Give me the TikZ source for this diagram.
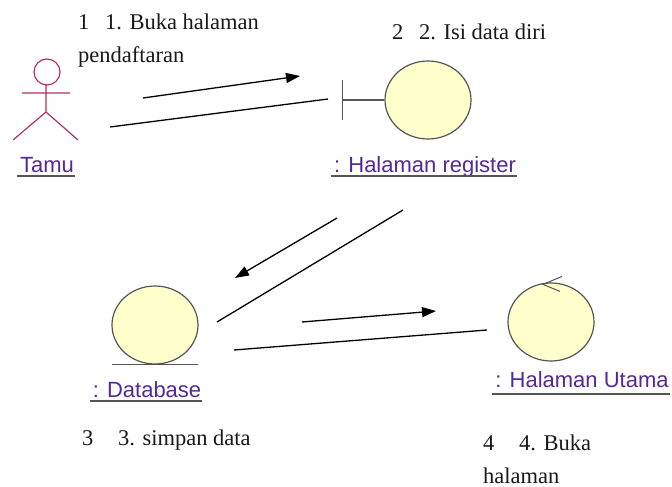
\documentclass[tikz,border=0pt]{standalone}
\usepackage{fontspec}
\setmainfont{Liberation Serif}
\setsansfont{Liberation Sans}
\usetikzlibrary{arrows.meta,shapes.geometric,calc}
\definecolor{objfill}{RGB}{255,255,204}
\definecolor{objline}{RGB}{85,85,85}
\definecolor{actorcol}{RGB}{180,50,100}
\definecolor{namecol}{RGB}{85,40,150}
\begin{document}
\begin{tikzpicture}[x=1pt,y=-1pt,
  obj/.style={ellipse,draw=objline,fill=objfill,line width=1.2pt,minimum width=86pt,minimum height=78pt,inner sep=0pt},
  objname/.style={font=\sffamily\fontsize{22}{26}\selectfont,text=namecol,anchor=base,inner sep=0pt},
  msg/.style={font=\fontsize{22.5}{26}\selectfont,text=black!90,anchor=base west,inner sep=0pt},
  link/.style={line width=1.3pt},
  msgarrow/.style={line width=1.3pt,-{Triangle[length=14pt,width=10pt]}}]
\useasboundingbox (0,0) rectangle (672,487);
\fill[white] (0,0) rectangle (672,487);
        \node[obj] (register) at (428,100) {};
        \node[obj] (database) at (155,325) {};
        \node[obj] (utama) at (551,322) {};
        \draw[objline,line width=1.2pt] (register.west) -- ++(-42,0) coordinate (regbar);
        \draw[objline,line width=1.2pt] (regbar) ++(0,-20) -- ++(0,40);
        \draw[objline,line width=1.2pt] (database.south) ++(-43,0) -- ++(86,0);
        \draw[objline,line width=1pt] (utama.north) ++(11,-6) -- ++(-19,8) -- ++(17,7);
        \draw[actorcol,line width=1.2pt] (47,72) circle[radius=13] (46,85) -- (46,112) (22,93) -- (70,93) (13,140) -- (46,112) -- (78,140);
        \node[objname] (tamu) at (47,172) {Tamu};
        \node[objname] (registername) at (425,172) {: Halaman register};
        \node[objname] (databasename) at (147,397) {: Database};
        \node[objname] (utamaname) at (582,387) {: Halaman Utama};
        \foreach \n/\d in {tamu/4,registername/4,databasename/4,utamaname/7}
          \draw[objline,line width=1.2pt] ($(\n.base west)+(-3,\d)$) -- ($(\n.base east)+(1,\d)$);
        \node[msg] (m1) at (78,30) {1\hspace{0.7em}1. Buka halaman};
        \node[msg] (m1b) at (78,63) {pendaftaran};
        \node[msg] (m2) at (392,40) {2\hspace{0.7em}2. Isi data diri};
        \node[msg] (m3) at (82,445) {3\hspace{1.1em}3. simpan data};
        \node[msg] (m4) at (483,450) {4\hspace{1.1em}4. Buka};
        \node[msg] (m4b) at (483,483) {halaman};
        \coordinate (t1) at (110,127);
        \coordinate (r1) at (328,99);
        \coordinate (r2) at (403,210);
        \coordinate (d2) at (217,322);
        \coordinate (d3) at (234,350);
        \coordinate (u3) at (487,330);
        \coordinate (a1s) at (143,98);
        \coordinate (a1e) at (300,76);
        \coordinate (a2s) at (337,218);
        \coordinate (a2e) at (235,278);
        \coordinate (a3s) at (302,322);
        \coordinate (a3e) at (436,311);
        \draw[link] (t1) -- (r1);
        \draw[link] (r2) -- (d2);
        \draw[link] (d3) -- (u3);
        \draw[msgarrow] (a1s) -- (a1e);
        \draw[msgarrow] (a2s) -- (a2e);
        \draw[msgarrow] (a3s) -- (a3e);
\end{tikzpicture}
\end{document}
